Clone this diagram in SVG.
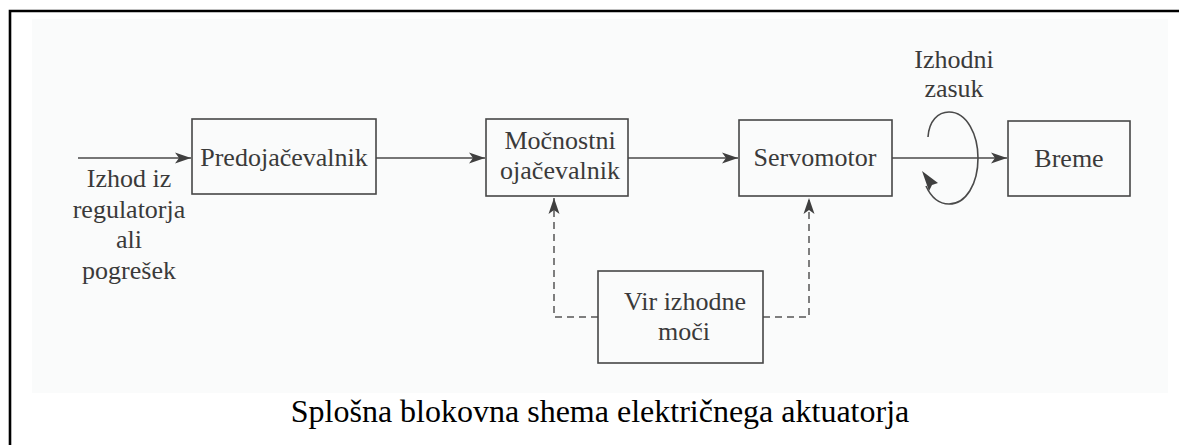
<svg xmlns="http://www.w3.org/2000/svg" width="1179" height="445" viewBox="0 0 1179 445">
  <style>
    .box { fill: none; stroke: #474747; stroke-width: 1.6; }
    .lbl { font-family: 'Liberation Serif', 'DejaVu Serif', 'Times New Roman', serif; font-size: 26px; fill: #3a3a3a; text-anchor: middle; }
    .flow { fill: none; stroke: #4a4a4a; stroke-width: 1.6; }
    .dash { fill: none; stroke: #555; stroke-width: 1.5; stroke-dasharray: 7 5; }
    .caption { font-family: 'Liberation Serif', 'DejaVu Serif', 'Times New Roman', serif; font-size: 32px; fill: #000; text-anchor: middle; }
  </style>
  <defs>
    <marker id="head" markerUnits="userSpaceOnUse" markerWidth="18" markerHeight="12" refX="16" refY="6" orient="auto">
      <path d="M0,0.5 L16,6 L0,11.5 L4,6 Z" fill="#3f3f3f"/>
    </marker>
  </defs>

  <rect width="1179" height="445" fill="#fff"/>
  <!-- printed panel area -->
  <rect x="32" y="19" width="1136" height="374" fill="#fafbfb"/>
  <!-- outer frame -->
  <path d="M10,445 V11 H1179" fill="none" stroke="#000" stroke-width="2.6"/>

  <g id="connectors">
    <line class="flow" x1="78" y1="158" x2="191" y2="158" marker-end="url(#head)"/>
    <line class="flow" x1="376" y1="158" x2="485" y2="158" marker-end="url(#head)"/>
    <line class="flow" x1="628" y1="158" x2="738" y2="158" marker-end="url(#head)"/>
    <line class="flow" x1="892" y1="158" x2="1007" y2="158" marker-end="url(#head)"/>
    <path class="dash" d="M598,317 H554 V198" marker-end="url(#head)"/>
    <path class="dash" d="M763,317 H809 V198" marker-end="url(#head)"/>
    <!-- output rotation -->
    <path class="flow" d="M928,137 C929,121 938,112 949,112 C967,112 978,135 978,158 C978,184 966,204 949,204 C939,204 931,197 926,186" />
    <path d="M922,171 L938,183 L932,185 L929,191 Z" fill="#3f3f3f"/>
  </g>

  <g id="input-label">
    <text class="lbl" x="129" y="187">Izhod iz</text>
    <text class="lbl" x="129" y="218">regulatorja</text>
    <text class="lbl" x="129" y="248">ali</text>
    <text class="lbl" x="129" y="279">pogrešek</text>
  </g>

  <g id="predojacevalnik">
    <rect class="box" x="192" y="119" width="184" height="75"/>
    <text class="lbl" x="284" y="166">Predojačevalnik</text>
  </g>

  <g id="mocnostni-ojacevalnik">
    <rect class="box" x="486" y="119" width="142" height="77"/>
    <text class="lbl" x="560" y="149">Močnostni</text>
    <text class="lbl" x="560" y="179">ojačevalnik</text>
  </g>

  <g id="servomotor">
    <rect class="box" x="739" y="120" width="153" height="76"/>
    <text class="lbl" x="815" y="166">Servomotor</text>
  </g>

  <g id="breme">
    <rect class="box" x="1008" y="121" width="122" height="75"/>
    <text class="lbl" x="1069" y="167">Breme</text>
  </g>

  <g id="vir-izhodne-moci">
    <rect class="box" x="598" y="271" width="165" height="92"/>
    <text class="lbl" x="685" y="310">Vir izhodne</text>
    <text class="lbl" x="684" y="340">moči</text>
  </g>

  <g id="izhodni-zasuk-label">
    <text class="lbl" x="954" y="68">Izhodni</text>
    <text class="lbl" x="954" y="97">zasuk</text>
  </g>

  <text class="caption" x="600" y="422">Splošna blokovna shema električnega aktuatorja</text>
</svg>
